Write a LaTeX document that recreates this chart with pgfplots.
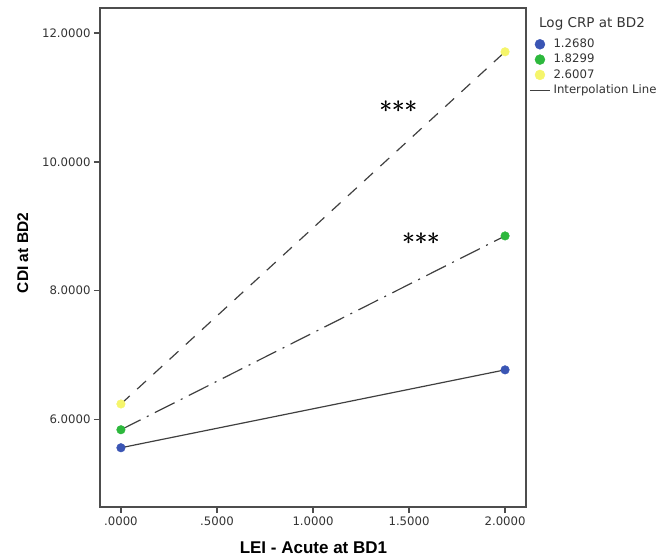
\documentclass[border=0pt]{standalone}
\usepackage{fontspec}
\setmainfont{DejaVu Sans}
\newfontfamily\labelfont{Liberation Sans}
\usepackage{pgfplots}
\pgfplotsset{compat=1.18}

\definecolor{crpblue}{HTML}{3A55B4}
\definecolor{crpgreen}{HTML}{2DB83D}
\definecolor{crpyellow}{HTML}{F5F56B}
\definecolor{linegray}{HTML}{404040}
\definecolor{axisgray}{HTML}{4D4D4D}
\definecolor{textgray}{HTML}{333333}

\begin{document}
\begin{tikzpicture}
\useasboundingbox (-100pt,-53pt) rectangle (570pt,507pt);
\begin{axis}[
  scale only axis, width=426pt, height=499pt,
  at={(0,0)}, anchor=south west,
  xmin=-0.109, xmax=2.109, ymin=4.64, ymax=12.39,
  xtick={0,0.5,1,1.5,2},
  xticklabels={.0000,.5000,1.0000,1.5000,2.0000},
  ytick={6,8,10,12},
  yticklabels={6.0000,8.0000,10.0000,12.0000},
  tick align=outside, tick pos=left, major tick length=6pt,
  axis line style={axisgray, line width=1.3pt},
  every tick/.style={axisgray, line width=1.3pt},
  ticklabel style={font=\fontsize{11.7}{14}\selectfont, text=textgray},
  xlabel={LEI - Acute at BD1}, ylabel={CDI at BD2},
  xlabel style={at={(axis description cs:0.501,-0.082)}, anchor=center,
    font=\labelfont\bfseries\fontsize{17}{20}\selectfont},
  ylabel style={at={(axis description cs:-0.181,0.509)}, anchor=center,
    font=\labelfont\bfseries\fontsize{15.5}{18}\selectfont},
  legend style={draw=none, fill=none, at={(axis description cs:1.0074,0.943)},
    anchor=north west, inner sep=0pt, font=\fontsize{11.7}{14}\selectfont,
    text=textgray, row sep=0pt, column sep=2pt,
    nodes={inner sep=1pt, text height=10pt, text depth=3.3pt}},
  legend cell align=left,
  legend image code/.code={\draw[mark repeat=2,mark phase=2,#1]
    plot coordinates {(0pt,0pt) (10pt,0pt) (20pt,0pt)};},
  legend image post style={mark size=5pt},
]

% group markers (Log CRP at BD2)
\addplot[only marks, mark=*, mark size=4.3pt, draw=crpblue, fill=crpblue]
  coordinates {(0,5.56) (2,6.77)};
\addlegendentry{1.2680}
\addplot[only marks, mark=*, mark size=4.3pt, draw=crpgreen, fill=crpgreen]
  coordinates {(0,5.84) (2,8.85)};
\addlegendentry{1.8299}
\addplot[only marks, mark=*, mark size=4.3pt, draw=crpyellow, fill=crpyellow]
  coordinates {(0,6.24) (2,11.71)};
\addlegendentry{2.6007}

% interpolation lines
\addplot[forget plot, linegray, line width=1.2pt] coordinates {(0,5.56) (2,6.77)};
\addplot[forget plot, linegray, line width=1.2pt,
  dash pattern=on 22pt off 7pt on 2pt off 7pt] coordinates {(0,5.84) (2,8.85)};
\addplot[forget plot, linegray, line width=1.2pt,
  dash pattern=on 12pt off 10pt] coordinates {(0,6.24) (2,11.71)};

\addlegendimage{linegray, line width=1.2pt}
\addlegendentry{Interpolation Line}

\node[inner sep=0pt, font=\fontsize{28}{28}\selectfont]
  at (axis cs:1.443,10.855) {${\ast}{\ast}{\ast}$};
\node[inner sep=0pt, font=\fontsize{28}{28}\selectfont, xshift=0.5pt]
  at (axis cs:1.443,10.855) {${\ast}{\ast}{\ast}$};
\node[inner sep=0pt, font=\fontsize{28}{28}\selectfont]
  at (axis cs:1.561,8.81) {${\ast}{\ast}{\ast}$};
\node[inner sep=0pt, font=\fontsize{28}{28}\selectfont, xshift=0.5pt]
  at (axis cs:1.561,8.81) {${\ast}{\ast}{\ast}$};
\end{axis}
% legend title
\node[anchor=west, inner sep=0pt, font=\fontsize{13.5}{16}\selectfont, text=textgray]
  at (439pt,483pt) {Log CRP at BD2};
\end{tikzpicture}
\end{document}
